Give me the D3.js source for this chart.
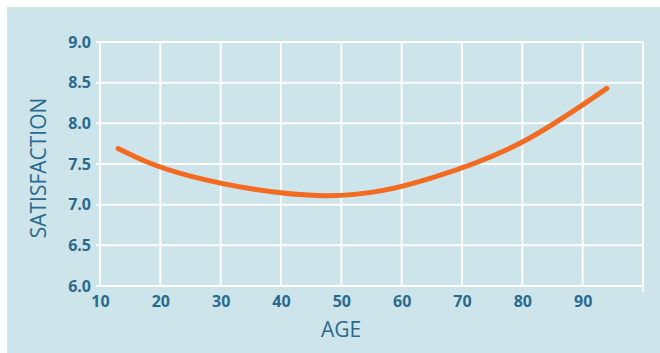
<!DOCTYPE html>
<html><head><meta charset="utf-8">
<script src="https://cdn.jsdelivr.net/npm/d3@7"></script>
<style>body{margin:0;background:#fff}svg{display:block}</style>
</head><body>
<script>
const ages = [13, 25, 47, 65, 80, 94];
const satisfaction = [7.69, 7.35, 7.11, 7.33, 7.77, 8.43];
const xTicks = [10, 20, 30, 40, 50, 60, 70, 80, 90];
const yTicks = [6.0, 6.5, 7.0, 7.5, 8.0, 8.5, 9.0];

const W = 660, H = 353;
const svg = d3.select("body").append("svg").attr("width", W).attr("height", H);
svg.append("rect").attr("x", 7).attr("y", 7).attr("width", W - 7).attr("height", H - 7).attr("fill", "#cde4eb");

const x = d3.scaleLinear().domain([10, 100]).range([100, 643]);
const y = d3.scaleLinear().domain([6, 9]).range([286, 42]);
const txt = "#2a6a8e";

const grid = svg.append("g").attr("stroke", "#ffffff").attr("stroke-width", 2);
grid.selectAll("line.v").data(d3.range(10, 101, 10)).join("line")
  .attr("x1", d => x(d)).attr("x2", d => x(d)).attr("y1", y(9)).attr("y2", y(6));
grid.selectAll("line.h").data(yTicks).join("line")
  .attr("x1", x(10) - 4).attr("x2", x(100)).attr("y1", d => y(d)).attr("y2", d => y(d));
grid.append("line").attr("x1", x(100)).attr("x2", x(100)).attr("y1", y(6)).attr("y2", y(6) + 6).attr("stroke-width", 1.5);

const xAxis = svg.append("g").attr("transform", `translate(0,${y(6)})`)
  .call(d3.axisBottom(x).tickValues(xTicks).tickSize(0).tickPadding(10));
const yAxis = svg.append("g").attr("transform", `translate(${x(10)},0)`)
  .call(d3.axisLeft(y).tickValues(yTicks).tickFormat(d3.format(".1f")).tickSize(0).tickPadding(9));
[xAxis, yAxis].forEach(a => {
  a.select(".domain").remove();
  a.selectAll("text").attr("fill", txt).attr("font-family", "Open Sans").attr("font-weight", 700).attr("font-size", 16);
});

svg.append("path").datum(ages.map((a, i) => [a, satisfaction[i]]))
  .attr("fill", "none").attr("stroke", "#f26b21").attr("stroke-width", 5).attr("stroke-linecap", "round")
  .attr("d", d3.line().x(d => x(d[0])).y(d => y(d[1])).curve(d3.curveNatural));

svg.append("text").attr("x", 341).attr("y", 337).attr("text-anchor", "middle")
  .attr("fill", txt).attr("font-family", "Open Sans").attr("font-size", 21).text("AGE");
svg.append("text").attr("transform", "translate(46,168) rotate(-90)").attr("text-anchor", "middle")
  .attr("fill", txt).attr("font-family", "Open Sans").attr("font-size", 21).text("SATISFACTION");
</script>
</body></html>
